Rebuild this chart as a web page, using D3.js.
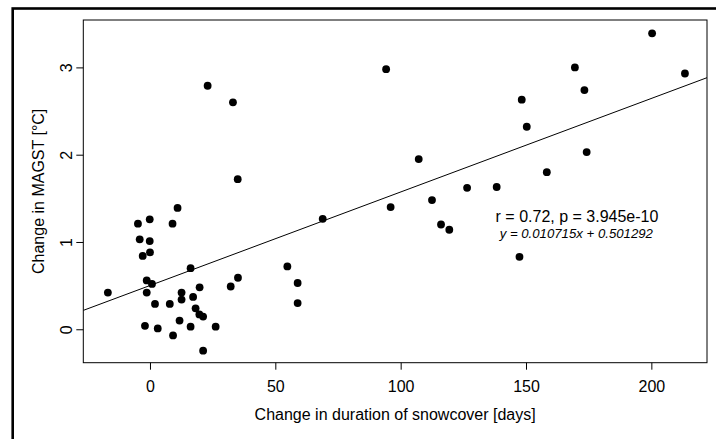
<!DOCTYPE html>
<html>
<head>
<meta charset="utf-8">
<script src="https://cdn.jsdelivr.net/npm/d3@7"></script>
<style>
  body { margin: 0; background: #fff; }
  svg { display: block; font-family: "Liberation Sans", Arial, sans-serif; }
</style>
</head>
<body>
<script>
// change in snowcover duration (days) vs change in MAGST (deg C)
var snowDays = [11.0, -0.1, -4.8, 9.0, -4.1, -0.1, -2.9, 0.0, 16.2, -1.3,
                0.8, -16.8, -1.3, 12.6, 19.8, 32.2, 35.1, 12.6, 17.2, 2.0,
                7.9, 18.2, 19.7, 21.2, -2.0, 3.1, 11.8, 16.2, 26.2, 9.2,
                21.2, 54.8, 58.9, 58.9, 68.9, 23.0, 33.1, 35.0, 94.2, 169.5,
                200.3, 213.4, 173.3, 148.3, 150.3, 174.2, 107.2, 158.3, 126.5, 138.3,
                112.5, 96.0, 116.1, 119.4, 147.4];
var magst = [1.39, 1.26, 1.21, 1.21, 1.03, 1.01, 0.84, 0.88, 0.70, 0.56,
             0.52, 0.42, 0.42, 0.42, 0.48, 0.49, 0.59, 0.34, 0.37, 0.29,
             0.29, 0.24, 0.17, 0.145, 0.04, 0.01, 0.10, 0.03, 0.03, -0.07,
             -0.245, 0.72, 0.53, 0.30, 1.265, 2.79, 2.60, 1.72, 2.98, 3.00,
             3.39, 2.93, 2.74, 2.63, 2.32, 2.03, 1.95, 1.80, 1.62, 1.63,
             1.48, 1.40, 1.20, 1.14, 0.83];

var xTicks = [0, 50, 100, 150, 200];
var yTicks = [0, 1, 2, 3];

var slope = 0.010715;
var intercept = 0.501292;
var statLabel = "r = 0.72, p = 3.945e-10";
var fitLabel = "y = 0.010715x + 0.501292";

const width = 716;
const height = 439;
const plot = { left: 83.3, right: 707, top: 20, bottom: 362.7 };

const x = d3.scaleLinear().domain([-26.6, 222.2]).range([plot.left, plot.right]);
const y = d3.scaleLinear().domain([-0.383, 3.543]).range([plot.bottom, plot.top]);

const svg = d3.select("body").append("svg")
    .attr("width", width)
    .attr("height", height);

// outer frame, runs off the right and bottom edge
svg.append("rect")
    .attr("x", 12.7).attr("y", 8.5)
    .attr("width", 800).attr("height", 600)
    .attr("fill", "none")
    .attr("stroke", "#000")
    .attr("stroke-width", 2.6);

svg.append("defs").append("clipPath").attr("id", "plot-clip")
  .append("rect")
    .attr("x", plot.left).attr("y", plot.top)
    .attr("width", plot.right - plot.left)
    .attr("height", plot.bottom - plot.top);

// axes
const xAxis = d3.axisBottom(x).tickValues(xTicks).tickFormat(d3.format("d"))
    .tickSize(7).tickSizeOuter(0).tickPadding(11);
const yAxis = d3.axisLeft(y).tickValues(yTicks).tickFormat(d3.format("d"))
    .tickSize(7).tickSizeOuter(0);

const gx = svg.append("g")
    .attr("transform", `translate(0, ${plot.bottom})`)
    .call(xAxis);
gx.select(".domain").remove();
gx.selectAll("text").attr("font-size", 16).attr("fill", "#000").attr("font-family", null);
gx.selectAll("line").attr("stroke", "#000");

const gy = svg.append("g")
    .attr("transform", `translate(${plot.left}, 0)`)
    .call(yAxis);
gy.select(".domain").remove();
gy.selectAll("line").attr("stroke", "#000");
gy.selectAll("text")
    .attr("font-size", 16)
    .attr("font-family", null)
    .attr("fill", "#000")
    .attr("x", null).attr("dy", null)
    .attr("text-anchor", "middle")
    .attr("transform", "translate(-11.6,0) rotate(-90)");

// plot box
svg.append("rect")
    .attr("x", plot.left).attr("y", plot.top)
    .attr("width", plot.right - plot.left)
    .attr("height", plot.bottom - plot.top)
    .attr("fill", "none")
    .attr("stroke", "#000")
    .attr("stroke-width", 1);

// regression line (abline)
const xd = x.domain();
svg.append("line")
    .attr("clip-path", "url(#plot-clip)")
    .attr("x1", x(xd[0])).attr("y1", y(intercept + slope * xd[0]))
    .attr("x2", x(xd[1])).attr("y2", y(intercept + slope * xd[1]))
    .attr("stroke", "#000")
    .attr("stroke-width", 1);

svg.append("g")
  .selectAll("circle")
  .data(snowDays)
  .join("circle")
    .attr("cx", d => x(d))
    .attr("cy", (d, i) => y(magst[i]))
    .attr("r", 3.9)
    .attr("fill", "#000");

// annotation
svg.append("text")
    .attr("x", 577).attr("y", 221.7)
    .attr("text-anchor", "middle")
    .attr("font-size", 16)
    .text(statLabel);

svg.append("text")
    .attr("x", 576.3).attr("y", 237.7)
    .attr("text-anchor", "middle")
    .attr("font-size", 13.2)
    .attr("font-style", "italic")
    .text(fitLabel);

// axis titles
svg.append("text")
    .attr("x", (plot.left + plot.right) / 2)
    .attr("y", 420)
    .attr("text-anchor", "middle")
    .attr("font-size", 16)
    .text("Change in duration of snowcover [days]");

svg.append("text")
    .attr("transform", `translate(43.5, ${(plot.top + plot.bottom) / 2}) rotate(-90)`)
    .attr("text-anchor", "middle")
    .attr("font-size", 16)
    .text("Change in MAGST [°C]");
</script>
</body>
</html>
